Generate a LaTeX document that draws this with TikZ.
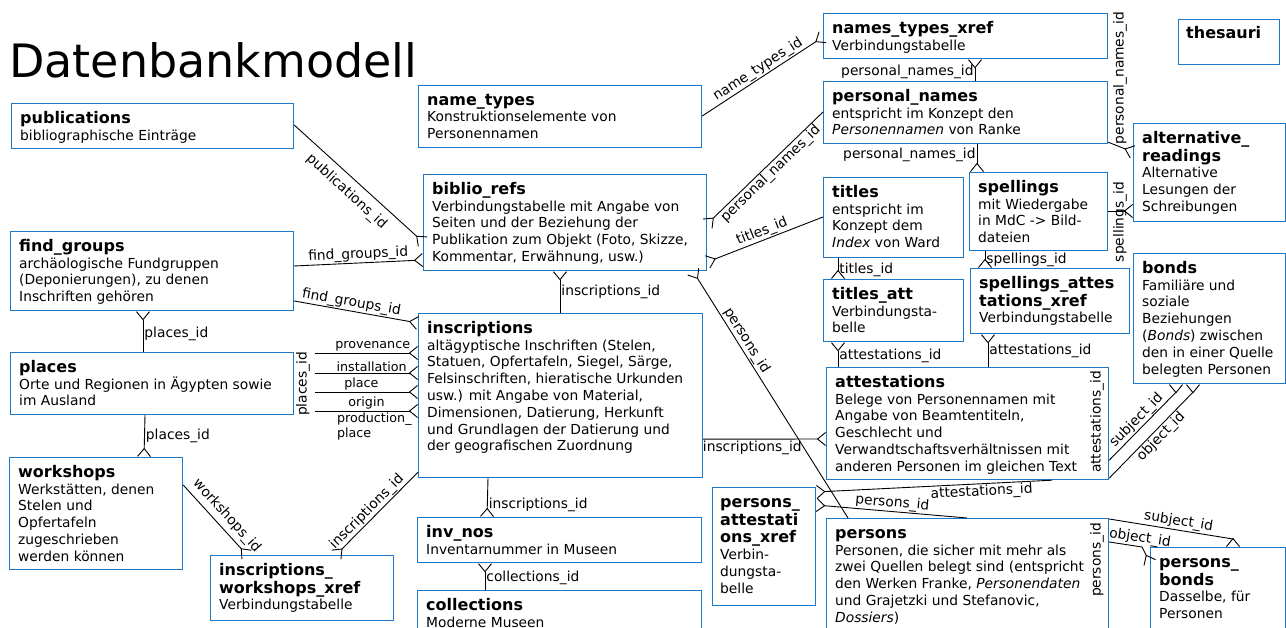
\documentclass[tikz,border=0pt]{standalone}
\usepackage{fontspec}
\setmainfont{DejaVu Sans}
\usetikzlibrary{arrows.meta}
\definecolor{tblblue}{RGB}{30,120,200}
\newcommand\nm[1]{\rule{0pt}{12pt}{\fontsize{16}{19}\selectfont\bfseries #1}}
\newcommand\nmx[1]{{\fontsize{16}{19}\selectfont\bfseries #1}}

\tikzset{
  tbl/.style={draw=tblblue, line width=1.2pt, inner sep=0pt, anchor=north west},
  txt/.style={anchor=north west, align=left, inner sep=0pt, font=\fontsize{13.8}{16.8}\selectfont},
  lbl/.style={font=\fontsize{13.8}{16}\selectfont, inner sep=1pt},
  slbl/.style={font=\fontsize{12.7}{15}\selectfont, inner sep=1pt},
  rel/.style={line width=0.9pt},
  crow/.style={-{Straight Barb[reversed,length=8pt,width=13pt]}},
  crowstart/.style={{Straight Barb[reversed,length=8pt,width=13pt]}-},
}

\begin{document}
\begin{tikzpicture}[x=1pt, y=-1pt]
\useasboundingbox (0,0) rectangle (1286,628);

\node[anchor=base west, inner sep=0pt, font=\fontsize{46}{50}\selectfont] (title) at (9,78) {Datenbankmodell};

% tables, left column
\node[tbl, minimum width=282pt, minimum height=45pt] (pub) at (11,103) {};
\node[txt] (pub-t) at ([shift={(9,8)}]pub.north west) {\nm{publications}\\bibliographische Einträge};

\node[tbl, minimum width=283pt, minimum height=79pt] (fg) at (10,231) {};
\node[txt] (fg-t) at ([shift={(9,8)}]fg.north west) {\nm{find\_groups}\\archäologische Fundgruppen\\(Deponierungen), zu denen\\Inschriften gehören};

\node[tbl, minimum width=283pt, minimum height=62pt] (pl) at (10,352) {};
\node[txt] (pl-t) at ([shift={(9,8)}]pl.north west) {\nm{places}\\Orte und Regionen in Ägypten sowie\\im Ausland};

\node[tbl, minimum width=173pt, minimum height=112pt] (ws) at (9,457) {};
\node[txt] (ws-t) at ([shift={(9,8)}]ws.north west) {\nm{workshops}\\Werkstätten, denen\\Stelen und\\Opfertafeln\\zugeschrieben\\werden können};

\node[tbl, minimum width=183pt, minimum height=65pt] (iwx) at (210,555) {};
\node[txt] (iwx-t) at ([shift={(9,8)}]iwx.north west) {\nm{inscriptions\_}\\[1pt]\nmx{workshops\_xref}\\Verbindungstabelle};

% tables, middle column
\node[tbl, minimum width=283pt, minimum height=62pt] (nt) at (418,85) {};
\node[txt] (nt-t) at ([shift={(9,8)}]nt.north west) {\nm{name\_types}\\Konstruktionselemente von\\Personennamen};

\node[tbl, minimum width=283pt, minimum height=96pt] (bib) at (423,174) {};
\node[txt] (bib-t) at ([shift={(9,8)}]bib.north west) {\nm{biblio\_refs}\\Verbindungstabelle mit Angabe von\\Seiten und der Beziehung der\\Publikation zum Objekt (Foto, Skizze,\\Kommentar, Erwähnung, usw.)};

\node[tbl, minimum width=284pt, minimum height=164pt] (ins) at (418,313) {};
\node[txt] (ins-t) at ([shift={(9,8)}]ins.north west) {\nm{inscriptions}\\altägyptische Inschriften (Stelen,\\Statuen, Opfertafeln, Siegel, Särge,\\Felsinschriften, hieratische Urkunden\\usw.) mit Angabe von Material,\\Dimensionen, Datierung, Herkunft\\und Grundlagen der Datierung und\\der geografischen Zuordnung};

\node[tbl, minimum width=284pt, minimum height=45pt] (inv) at (417,517) {};
\node[txt] (inv-t) at ([shift={(9,8)}]inv.north west) {\nm{inv\_nos}\\Inventarnummer in Museen};

\node[tbl, minimum width=284pt, minimum height=50pt] (coll) at (417,590) {};
\node[txt] (coll-t) at ([shift={(9,8)}]coll.north west) {\nm{collections}\\Moderne Museen};

\node[tbl, minimum width=103pt, minimum height=118pt] (pax) at (712,487) {};
\node[txt] (pax-t) at ([shift={(8,8)}]pax.north west) {\nm{persons\_}\\[1pt]\nmx{attestati}\\[1pt]\nmx{ons\_xref}\\Verbin-\\dungsta-\\belle};

% tables, right columns
\node[tbl, minimum width=284pt, minimum height=45pt] (ntx) at (823,13) {};
\node[txt] (ntx-t) at ([shift={(9,8)}]ntx.north west) {\nm{names\_types\_xref}\\Verbindungstabelle};

\node[tbl, minimum width=101pt, minimum height=45pt] (thes) at (1178,19) {};
\node[txt] (thes-t) at ([shift={(8,7)}]thes.north west) {\nm{thesauri}};

\node[tbl, minimum width=284pt, minimum height=62pt] (pn) at (823,81) {};
\node[txt] (pn-t) at ([shift={(9,8)}]pn.north west) {\nm{personal\_names}\\entspricht im Konzept den\\\textit{Personennamen} von Ranke};

\node[tbl, minimum width=152pt, minimum height=98pt] (alt) at (1133,123) {};
\node[txt] (alt-t) at ([shift={(9,8)}]alt.north west) {\nm{alternative\_}\\[1pt]\nmx{readings}\\Alternative\\Lesungen der\\Schreibungen};

\node[tbl, minimum width=140pt, minimum height=80pt] (tit) at (823,177) {};
\node[txt] (tit-t) at ([shift={(9,8)}]tit.north west) {\nm{titles}\\entspricht im\\Konzept dem\\\textit{Index} von Ward};

\node[tbl, minimum width=138pt, minimum height=78pt] (spel) at (969,172) {};
\node[txt] (spel-t) at ([shift={(9,8)}]spel.north west) {\nm{spellings}\\mit Wiedergabe\\in MdC -> Bild-\\dateien};

\node[tbl, minimum width=140pt, minimum height=62pt] (tatt) at (823,279) {};
\node[txt] (tatt-t) at ([shift={(9,8)}]tatt.north west) {\nm{titles\_att}\\Verbindungsta-\\belle};

\node[tbl, minimum width=159pt, minimum height=65pt] (satt) at (970,268) {};
\node[txt] (satt-t) at ([shift={(9,8)}]satt.north west) {\nm{spellings\_attes}\\[1pt]\nmx{tations\_xref}\\Verbindungstabelle};

\node[tbl, minimum width=152pt, minimum height=130pt] (bonds) at (1133,253) {};
\node[txt] (bonds-t) at ([shift={(9,8)}]bonds.north west) {\nm{bonds}\\Familiäre und\\soziale\\Beziehungen\\(\textit{Bonds}) zwischen\\den in einer Quelle\\belegten Personen};

\node[tbl, minimum width=282pt, minimum height=112pt] (att) at (826,367) {};
\node[txt] (att-t) at ([shift={(9,8)}]att.north west) {\nm{attestations}\\Belege von Personennamen mit\\Angabe von Beamtentiteln,\\Geschlecht und\\Verwandtschaftsverhältnissen mit\\anderen Personen im gleichen Text};

\node[tbl, minimum width=282pt, minimum height=122pt] (pers) at (826,518) {};
\node[txt] (pers-t) at ([shift={(9,8)}]pers.north west) {\nm{persons}\\Personen, die sicher mit mehr als\\zwei Quellen belegt sind (entspricht\\den Werken Franke, \textit{Personendaten}\\und Grajetzki und Stefanovic,\\\textit{Dossiers})};

\node[tbl, minimum width=135pt, minimum height=93pt] (pb) at (1150,547) {};
\node[txt] (pb-t) at ([shift={(9,8)}]pb.north west) {\nm{persons\_}\\[1pt]\nmx{bonds}\\Dasselbe, für\\Personen};

% relations
\draw[rel, crow] ([shift={(0,22)}]pub.north east) -- node[lbl, sloped, below=6pt, pos=0.48] (l-pub) {publications\_id} ([shift={(0,68)}]bib.north west);
\draw[rel, crow] ([shift={(0,35)}]fg.north east) -- node[lbl, sloped, above, pos=0.5] (l-fg1) {find\_groups\_id} ([shift={(0,86)}]bib.north west);
\draw[rel, crow] ([shift={(0,70)}]fg.north east) -- node[lbl, sloped, above, pos=0.45] (l-fg2) {find\_groups\_id} ([shift={(0,10)}]ins.north west);
\draw[rel, crowstart] ([shift={(133,0)}]fg.south west) -- node[lbl, right, pos=0.55] (l-fgpl) {places\_id} ([shift={(133,0)}]pl.north west);
\draw[rel, crow] ([shift={(135,0)}]pl.south west) -- node[lbl, right, pos=0.5] (l-plws) {places\_id} ([shift={(135,0)}]ws.north west);

% places -> inscriptions
\node[lbl, rotate=90] (l-plid) at (303,384) {places\_id};
\coordinate (pl-o1) at (315,353);
\coordinate (pl-o2) at (315,373);
\coordinate (pl-o3) at (315,392);
\coordinate (pl-o4) at (315,411);
\draw[rel, crow] (pl-o1) -- node[slbl, above, pos=0.56] (l-prov) {provenance} ([shift={(0,40)}]ins.north west);
\draw[rel, crow] (pl-o2) -- node[slbl, above, pos=0.55] (l-inst) {installation} ([shift={(0,60)}]ins.north west);
\draw[rel, crow] (pl-o3) -- node[slbl, above, pos=0.45] (l-place) {place} ([shift={(0,79)}]ins.north west);
\draw[rel, crow] (pl-o4) -- node[slbl, above, pos=0.5] (l-orig) {origin}
  node[slbl, below right, align=left, pos=0.2] (l-prod) {production\_\\place} ([shift={(0,98)}]ins.north west);

\draw[rel, crowstart] ([shift={(137,0)}]bib.south west) -- node[lbl, right, pos=0.5] (l-bibins) {inscriptions\_id} ([shift={(142,0)}]ins.north west);
\draw[rel, crow] ([shift={(0,28)}]ws.north east) -- node[lbl, sloped, above=3pt, pos=0.55] (l-ws) {workshops\_id} ([shift={(37,0)}]iwx.north west);
\draw[rel, crow] ([shift={(0,-6)}]ins.south west) -- node[lbl, sloped, above, pos=0.55] (l-insiwx) {inscriptions\_id} ([shift={(126,0)}]iwx.north west);
\draw[rel, crow] ([shift={(70,0)}]ins.south west) -- node[lbl, right, pos=0.7] (l-insinv) {inscriptions\_id} ([shift={(70,0)}]inv.north west);
\draw[rel, crowstart] ([shift={(68,0)}]inv.south west) -- node[lbl, right, pos=0.55] (l-coll) {collections\_id} ([shift={(68,0)}]coll.north west);

\draw[rel, crow] ([shift={(0,31)}]nt.north west -| nt.east) -- node[lbl, sloped, above, pos=0.5] (l-nt) {name\_types\_id} ([shift={(0,24)}]ntx.north west);
\draw[rel, crowstart] ([shift={(152,0)}]ntx.south west) -- node[lbl, left, pos=0.6] (l-ntxpn) {personal\_names\_id} ([shift={(152,0)}]pn.north west);
\draw[rel, crowstart] ([shift={(0,50)}]bib.north east) -- node[lbl, sloped, below, pos=0.5] (l-pnbib) {personal\_names\_id} ([shift={(0,31)}]pn.north west);
\draw[rel, crowstart] ([shift={(0,88)}]bib.north east) -- node[lbl, sloped, above, pos=0.5] (l-tit) {titles\_id} ([shift={(0,40)}]tit.north west);
\draw[rel, crowstart] ([shift={(270,0)}]bib.south west) -- node[lbl, sloped, above, pos=0.3] (l-bibpers) {persons\_id} ([shift={(22,0)}]pers.north west);

\draw[rel, crow] ([shift={(154,0)}]pn.south west) -- node[lbl, left, pos=0.4] (l-pnsp) {personal\_names\_id} ([shift={(8,0)}]spel.north west);
\draw[rel, crow] ([shift={(0,-2)}]pn.south east) -- ([shift={(0,29)}]alt.north west);
\node[lbl, rotate=90] (l-pnalt) at (1120,78) {personal\_names\_id};
\draw[rel, crow] ([shift={(0,39)}]spel.north east) -- ([shift={(0,88)}]alt.north west);
\node[lbl, rotate=90] (l-spalt) at (1120,222) {spellings\_id};

\draw[rel, crow] ([shift={(15,0)}]tit.south west) -- node[lbl, right, pos=0.55] (l-tittatt) {titles\_id} ([shift={(15,0)}]tatt.north west);
\draw[rel, crow] ([shift={(16,0)}]spel.south west) -- node[lbl, right, pos=0.5] (l-spsatt) {spellings\_id} ([shift={(15,0)}]satt.north west);
\draw[rel, crowstart] ([shift={(15,0)}]tatt.south west) -- node[lbl, right, pos=0.55] (l-tattatt) {attestations\_id} ([shift={(12,0)}]att.north west);
\draw[rel, crowstart] ([shift={(18,0)}]satt.south west) -- node[lbl, right, pos=0.5] (l-sattatt) {attestations\_id} ([shift={(162,0)}]att.north west);

\draw[rel, crow] ([shift={(0,-39)}]ins.south east) -- node[lbl, below, pos=0.4] (l-insatt) {inscriptions\_id} ([shift={(0,72)}]att.north west);
\draw[rel, crowstart] ([shift={(0,5)}]pax.north east) -- node[lbl, sloped, below, pos=0.7] (l-paxatt) {attestations\_id} ([shift={(226,0)}]att.south west);
\draw[rel, crowstart] ([shift={(0,18)}]pax.north east) -- node[lbl, sloped, above, pos=0.5] (l-paxpers) {persons\_id} ([shift={(141,0)}]pers.north west);

% bonds
\node[lbl, rotate=90] (l-attid) at (1097,422) {attestations\_id};
\draw[rel, crow] ([shift={(0,-20)}]att.south east) -- node[lbl, sloped, above, pos=0.5] (l-subj) {subject\_id} ([shift={(43,8)}]bonds.south west) -- ([shift={(43,0)}]bonds.south west);
\draw[rel, crow] ([shift={(0,-2)}]att.south east) -- node[lbl, sloped, below, pos=0.55] (l-obj) {object\_id} ([shift={(60,8)}]bonds.south west) -- ([shift={(60,0)}]bonds.south west);
\node[lbl, rotate=90] (l-persid) at (1097,560) {persons\_id};
\draw[rel, crow] ([shift={(0,1)}]pers.north east) -- node[lbl, sloped, above, pos=0.55] (l-subj2) {subject\_id} ([shift={(83,-8)}]pb.north west) -- ([shift={(83,0)}]pb.north west);
\draw[rel, crow] ([shift={(0,24)}]pers.north east) -- node[lbl, sloped, above, pos=0.9] (l-obj2) {object\_id} ([shift={(-8,0)}]pb.north west) -- ([shift={(0,16)}]pb.north west);
\end{tikzpicture}
\end{document}
